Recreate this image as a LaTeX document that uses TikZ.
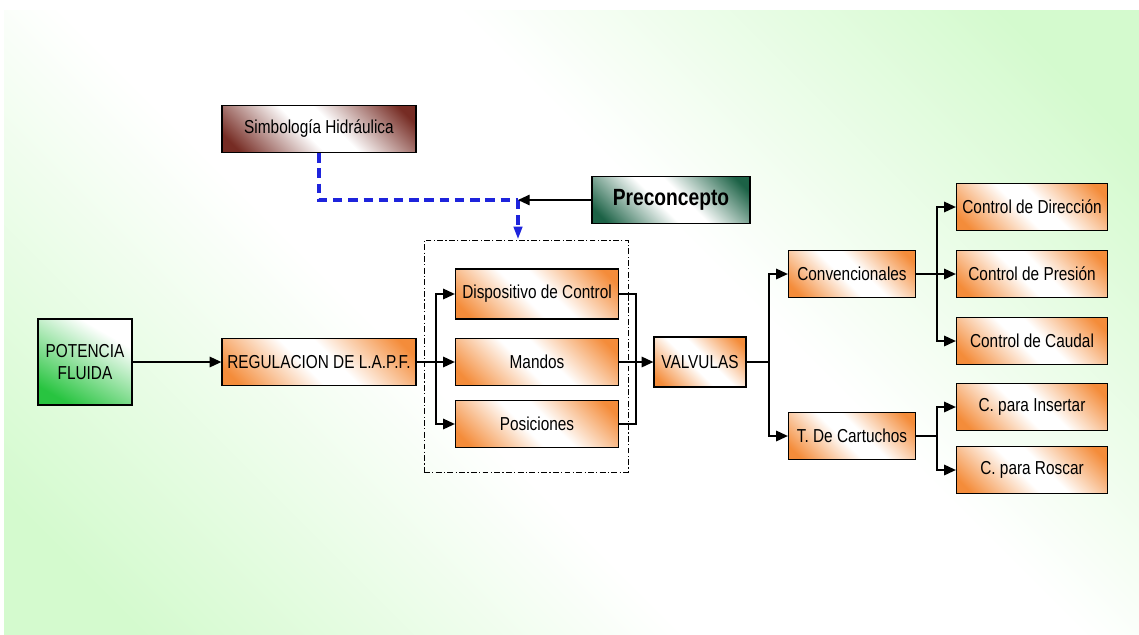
\documentclass[tikz,border=0pt]{standalone}
\usepackage{fontspec}
\setmainfont[FakeStretch=0.82]{Liberation Sans}
\usetikzlibrary{arrows.meta}
\definecolor{boxorange}{RGB}{244,140,58}
\definecolor{boxgreen}{RGB}{40,196,64}
\definecolor{boxbrown}{RGB}{118,44,36}
\definecolor{boxteal}{RGB}{28,98,70}
\definecolor{bggreen}{RGB}{212,250,206}
\definecolor{linkblue}{RGB}{30,36,220}
\pgfdeclareverticalshading{orangebox}{100bp}{color(0bp)=(boxorange); color(20bp)=(boxorange); color(45bp)=(white); color(55bp)=(white); color(80bp)=(boxorange); color(100bp)=(boxorange)}
\pgfdeclareverticalshading{brownbox}{100bp}{color(0bp)=(boxbrown); color(20bp)=(boxbrown); color(45bp)=(white); color(55bp)=(white); color(80bp)=(boxbrown); color(100bp)=(boxbrown)}
\pgfdeclareverticalshading{tealbox}{100bp}{color(0bp)=(boxteal); color(20bp)=(boxteal); color(45bp)=(white); color(55bp)=(white); color(80bp)=(boxteal); color(100bp)=(boxteal)}
\pgfdeclareverticalshading{greenbox}{100bp}{color(0bp)=(boxgreen); color(25bp)=(boxgreen); color(70bp)=(white); color(100bp)=(white)}
\pgfdeclareverticalshading{backfade}{100bp}{color(0bp)=(bggreen); color(20bp)=(bggreen); color(42bp)=(white); color(58bp)=(white); color(80bp)=(bggreen); color(100bp)=(bggreen)}
\begin{document}
\begin{tikzpicture}[x=0.03cm,y=-0.03cm,
  box/.style={draw, line width=1.1pt, inner sep=2pt, minimum height=1.41cm, shade, shading=orangebox, shading angle=-45, font=\fontsize{16}{18}\selectfont},
  arr/.style={-{Triangle[length=10pt,width=9pt]}},
  bluearr/.style={-{Triangle[length=11pt,width=7pt]}},
  link/.style={line width=1.2pt},
  bluelink/.style={linkblue, line width=3pt, dash pattern=on 8pt off 5pt}]
\useasboundingbox (0,0) rectangle (1139,634);
\shade[shading=backfade, shading angle=-45] (4,10) rectangle (1139,634);
\node[box, shading=brownbox, minimum width=5.82cm] (simb) at (319,129) {Simbología Hidráulica};
\node[box, shading=tealbox, minimum width=4.74cm, font=\fontsize{20}{22}\selectfont\bfseries] (prec) at (671,200) {Preconcepto};
\node[box, shading=greenbox, shading angle=-30, minimum width=2.82cm, minimum height=2.58cm, align=center] (pot) at (85,362) {POTENCIA\\FLUIDA};
\node[box, minimum width=5.82cm] (reg) at (319,362) {REGULACION DE L.A.P.F.};
\node[draw, line width=0.8pt, dash pattern=on 5pt off 2pt on 1pt off 2pt, minimum width=6.12cm, minimum height=6.96cm] (grp) at (526,356) {};
\node[box, minimum width=4.89cm, minimum height=1.5cm] (disp) at (537,294) {Dispositivo de Control};
\node[box, minimum width=4.89cm] (mandos) at (537,362) {Mandos};
\node[box, minimum width=4.89cm] (posic) at (537,424) {Posiciones};
\node[box, minimum width=2.76cm, minimum height=1.5cm] (valv) at (700,362) {VALVULAS};
\node[box, minimum width=3.81cm] (conv) at (852,274) {Convencionales};
\node[box, minimum width=3.81cm] (cart) at (852,436) {T. De Cartuchos};
\node[box, minimum width=4.53cm] (dir) at (1032,207) {Control de Dirección};
\node[box, minimum width=4.53cm] (pres) at (1032,274) {Control de Presión};
\node[box, minimum width=4.53cm] (caud) at (1032,341) {Control de Caudal};
\node[box, minimum width=4.53cm] (ins) at (1032,407) {C. para Insertar};
\node[box, minimum width=4.53cm] (ros) at (1032,470) {C. para Roscar};
\coordinate (meet) at (518,200);
\coordinate (j1) at (436,362);
\coordinate (j2) at (636,362);
\coordinate (j3) at (769,362);
\coordinate (j4) at (937,274);
\coordinate (j5) at (937,436);
\draw[bluelink] (simb) |- (meet);
\draw[bluelink, bluearr] (meet) -- (meet |- grp.north);
\draw[link, arr] (prec) -- (meet);
\draw[link, arr] (pot) -- (reg);
\draw[link, arr] (reg) -- (mandos);
\draw[link, arr] (j1) |- (disp);
\draw[link, arr] (j1) |- (posic);
\draw[link] (disp) -| (j2);
\draw[link] (posic) -| (j2);
\draw[link, arr] (mandos) -- (valv);
\draw[link] (valv) -- (j3);
\draw[link, arr] (j3) |- (conv);
\draw[link, arr] (j3) |- (cart);
\draw[link, arr] (conv) -- (pres);
\draw[link, arr] (j4) |- (dir);
\draw[link, arr] (j4) |- (caud);
\draw[link] (cart) -- (j5);
\draw[link, arr] (j5) |- (ins);
\draw[link, arr] (j5) |- (ros);
\end{tikzpicture}
\end{document}
